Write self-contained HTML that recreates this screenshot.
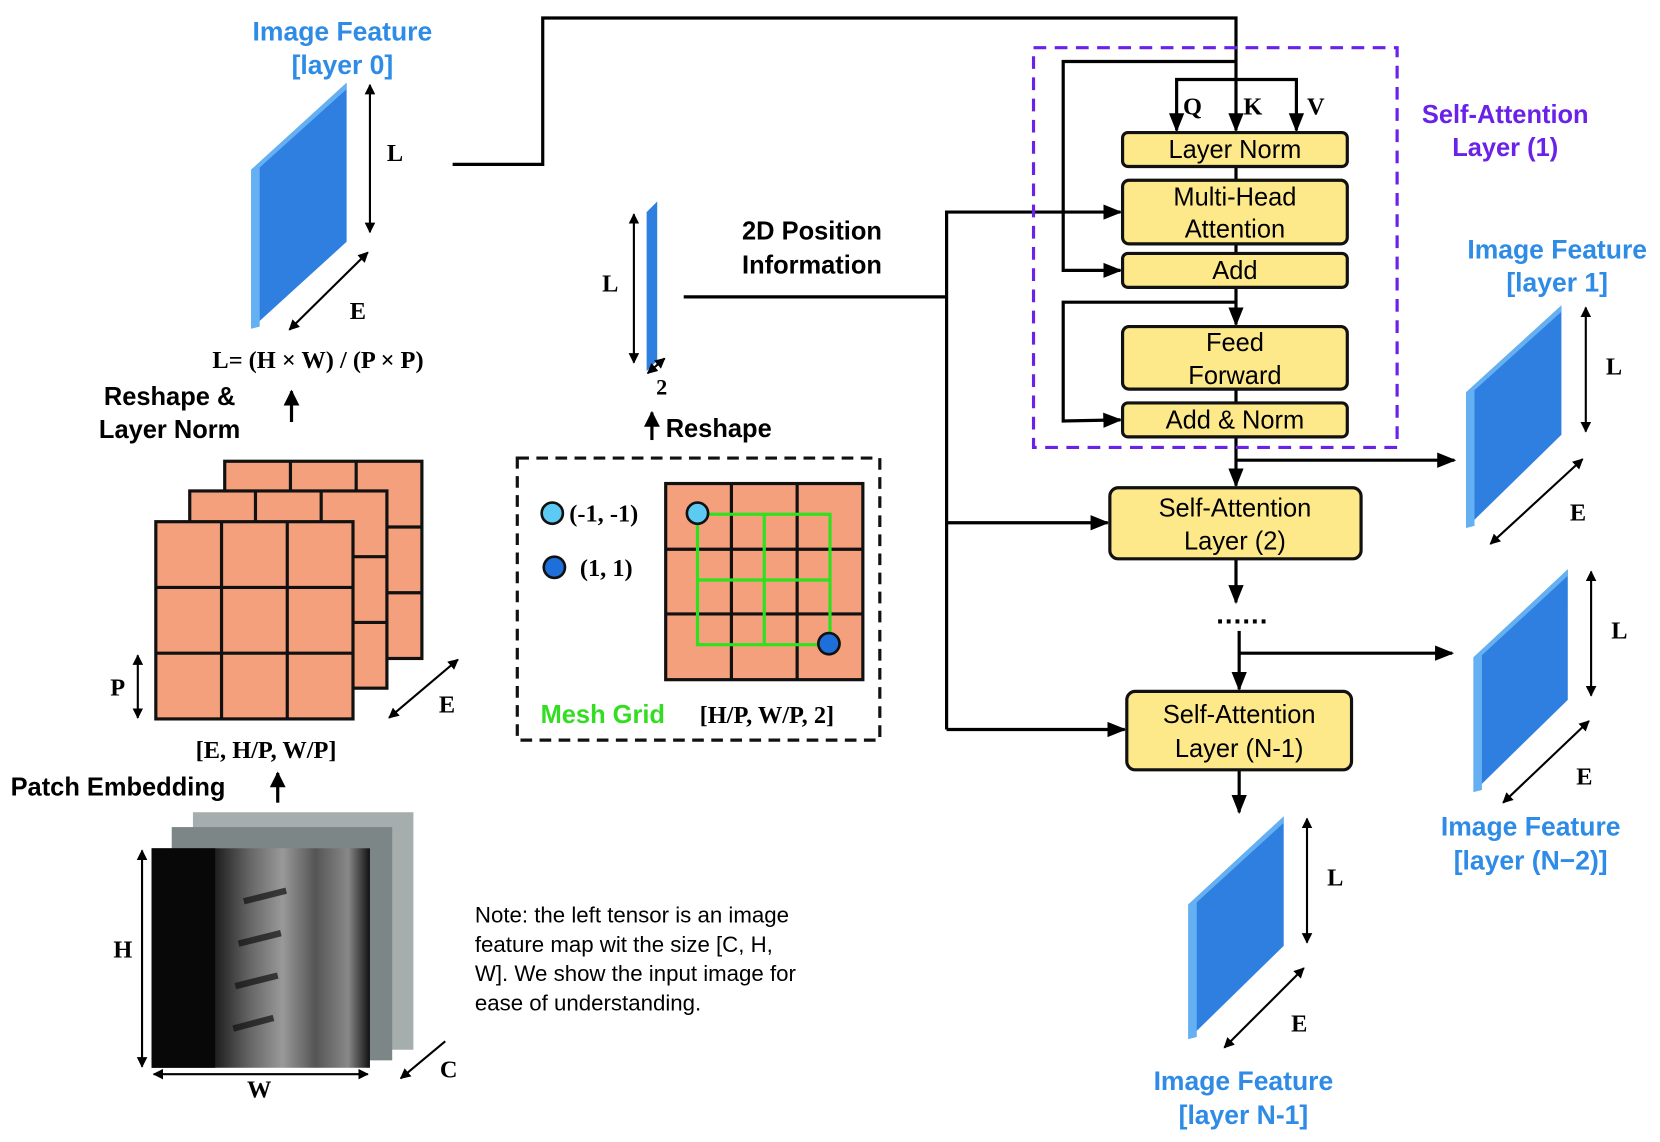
<!DOCTYPE html>
<html><head><meta charset="utf-8"><style>
html,body{margin:0;padding:0;background:#fff;}
svg{display:block;}
.sb{font-family:"Liberation Sans",sans-serif;font-weight:bold;}
.sn{font-family:"Liberation Sans",sans-serif;}
.se{font-family:"Liberation Serif",serif;font-weight:bold;}
.blue{fill:#2e8be6;}
</style></head><body>
<svg width="1660" height="1142" viewBox="0 0 1566 1077" preserveAspectRatio="none" xmlns="http://www.w3.org/2000/svg">
<defs>
<marker id="a" viewBox="0 0 10 10" refX="9" refY="5" markerWidth="5" markerHeight="5" orient="auto-start-reverse"><path d="M0,0 L10,5 L0,10 z" fill="#000"/></marker>
<marker id="s" viewBox="0 0 10 10" refX="9" refY="5" markerWidth="6" markerHeight="6" orient="auto-start-reverse"><path d="M0,1 L10,5 L0,9 z" fill="#000"/></marker>
<linearGradient id="mri" x1="0" x2="1" y1="0" y2="0">
<stop offset="0" stop-color="#050505"/><stop offset="0.3" stop-color="#222"/><stop offset="0.45" stop-color="#666"/><stop offset="0.6" stop-color="#999"/><stop offset="0.75" stop-color="#555"/><stop offset="0.9" stop-color="#888"/><stop offset="1" stop-color="#111"/></linearGradient>
</defs>

<text class="sb blue" x="323" y="38" font-size="25" text-anchor="middle">Image Feature</text>
<text class="sb blue" x="323" y="70" font-size="25" text-anchor="middle">[layer 0]</text>
<polygon points="237,160 327,78 327,228 237,310" fill="#2f7fe0"/>
<polygon points="237,160 327,78 327,84 245,158 245,308 237,310" fill="#64b0f2"/>
<line x1="349" y1="80" x2="349" y2="219" stroke="#000" stroke-width="2" marker-start="url(#a)" marker-end="url(#a)"/>
<text class="se" x="365" y="152" font-size="23">L</text>
<line x1="273" y1="311" x2="347" y2="238" stroke="#000" stroke-width="2" marker-start="url(#a)" marker-end="url(#a)"/>
<text class="se" x="330" y="301" font-size="23">E</text>
<text class="se" x="300" y="347" font-size="23" text-anchor="middle">L= (H × W) / (P × P)</text>
<text class="sb" x="160" y="382" font-size="24" text-anchor="middle">Reshape &amp;</text>
<text class="sb" x="160" y="413" font-size="24" text-anchor="middle">Layer Norm</text>
<line x1="275" y1="398" x2="275" y2="369" stroke="#000" stroke-width="3" marker-end="url(#a)"/>

<g stroke="#111" stroke-width="3" fill="#f4a07c">
<rect x="212" y="435" width="186" height="186"/>
<line x1="274" y1="435" x2="274" y2="621"/><line x1="336" y1="435" x2="336" y2="621"/>
<line x1="212" y1="497" x2="398" y2="497"/><line x1="212" y1="559" x2="398" y2="559"/>
<rect x="179" y="463" width="186" height="186"/>
<line x1="241" y1="463" x2="241" y2="649"/><line x1="303" y1="463" x2="303" y2="649"/>
<line x1="179" y1="525" x2="365" y2="525"/><line x1="179" y1="587" x2="365" y2="587"/>
<rect x="147" y="492" width="186" height="186"/>
<line x1="209" y1="492" x2="209" y2="678"/><line x1="271" y1="492" x2="271" y2="678"/>
<line x1="147" y1="554" x2="333" y2="554"/><line x1="147" y1="616" x2="333" y2="616"/>
</g>
<line x1="130" y1="618" x2="130" y2="677" stroke="#000" stroke-width="2" marker-start="url(#a)" marker-end="url(#a)"/>
<text class="se" x="104" y="656" font-size="23">P</text>
<line x1="367" y1="677" x2="432" y2="622" stroke="#000" stroke-width="2" marker-start="url(#a)" marker-end="url(#a)"/>
<text class="se" x="414" y="672" font-size="23">E</text>
<text class="se" x="251" y="715" font-size="23" text-anchor="middle">[E, H/P, W/P]</text>
<text class="sb" x="10" y="750" font-size="24">Patch Embedding</text>
<line x1="262" y1="757" x2="262" y2="729" stroke="#000" stroke-width="3" marker-end="url(#a)"/>

<rect x="182" y="766" width="208" height="224" fill="#a5adad"/>
<rect x="162" y="780" width="208" height="220" fill="#7c8686"/>
<rect x="143" y="800" width="206" height="207" fill="url(#mri)"/>
<rect x="143" y="800" width="60" height="207" fill="#080808"/>
<g stroke="#111" stroke-width="6" opacity="0.7">
<line x1="230" y1="850" x2="270" y2="840"/><line x1="225" y1="890" x2="265" y2="880"/><line x1="222" y1="930" x2="262" y2="920"/><line x1="220" y1="970" x2="258" y2="960"/>
</g>
<line x1="134" y1="802" x2="134" y2="1006" stroke="#000" stroke-width="2" marker-start="url(#a)" marker-end="url(#a)"/>
<text class="se" x="107" y="903" font-size="23">H</text>
<line x1="145" y1="1013" x2="347" y2="1013" stroke="#000" stroke-width="2" marker-start="url(#a)" marker-end="url(#a)"/>
<text class="se" x="233" y="1035" font-size="23">W</text>
<line x1="378" y1="1017" x2="420" y2="982" stroke="#000" stroke-width="2" marker-start="url(#a)"/>
<text class="se" x="415" y="1016" font-size="23">C</text>

<text class="sn" font-size="21"><tspan x="448" y="870">Note: the left tensor is an image</tspan><tspan x="448" y="898">feature map wit the size [C, H,</tspan><tspan x="448" y="925">W]. We show the input image for</tspan><tspan x="448" y="953">ease of understanding.</tspan></text>

<polygon points="610,200 620,190 620,340 610,350" fill="#2f7fe0"/>
<line x1="598" y1="202" x2="598" y2="342" stroke="#000" stroke-width="2" marker-start="url(#a)" marker-end="url(#a)"/>
<text class="se" x="568" y="275" font-size="23">L</text>
<line x1="611" y1="352" x2="627" y2="338" stroke="#000" stroke-width="2" marker-start="url(#a)" marker-end="url(#a)"/>
<text class="se" x="619" y="372" font-size="21">2</text>
<text class="sb" x="766" y="226" font-size="24" text-anchor="middle">2D Position</text>
<text class="sb" x="766" y="258" font-size="24" text-anchor="middle">Information</text>
<line x1="615" y1="415" x2="615" y2="389" stroke="#000" stroke-width="3" marker-end="url(#a)"/>
<text class="sb" x="628" y="412" font-size="24">Reshape</text>

<rect x="488" y="432" width="342" height="266" fill="none" stroke="#111" stroke-width="3" stroke-dasharray="11,7"/>
<g stroke="#111" stroke-width="3" fill="#f4a07c">
<rect x="628" y="456" width="186" height="185"/>
<line x1="690" y1="456" x2="690" y2="641"/><line x1="752" y1="456" x2="752" y2="641"/>
<line x1="628" y1="518" x2="814" y2="518"/><line x1="628" y1="579" x2="814" y2="579"/>
</g>
<g stroke="#2ee01e" stroke-width="3" fill="none">
<rect x="658" y="485" width="125" height="123"/>
<line x1="721" y1="485" x2="721" y2="608"/><line x1="658" y1="547" x2="783" y2="547"/>
</g>
<circle cx="658" cy="484" r="10" fill="#5ccaf2" stroke="#111" stroke-width="2.5"/>
<circle cx="782" cy="607" r="10" fill="#1e6fd9" stroke="#111" stroke-width="2.5"/>
<circle cx="521" cy="484" r="10" fill="#5ccaf2" stroke="#111" stroke-width="2.5"/>
<circle cx="523" cy="535" r="10" fill="#1e6fd9" stroke="#111" stroke-width="2.5"/>
<text class="se" x="537" y="492" font-size="23">(-1, -1)</text>
<text class="se" x="547" y="543" font-size="23">(1, 1)</text>
<text class="sb" x="510" y="682" font-size="24" fill="#33dd22">Mesh Grid</text>
<text class="se" x="660" y="682" font-size="23">[H/P, W/P, 2]</text>

<g stroke="#000" stroke-width="3" fill="none">
<polyline points="427,155 512,155 512,17 1166,17 1166,123" marker-end="url(#s)"/>
<polyline points="1110,123 1110,75 1223,75 1223,123" marker-start="url(#s)" marker-end="url(#s)"/>
<polyline points="1166,58 1003,58 1003,255 1057,255" marker-end="url(#s)"/>
<polyline points="1166,285 1003,285 1003,397 1057,396" marker-end="url(#s)"/>
<line x1="1166" y1="157" x2="1166" y2="170"/>
<line x1="1166" y1="230" x2="1166" y2="239"/>
<line x1="1166" y1="271" x2="1166" y2="306" marker-end="url(#s)"/>
<line x1="1166" y1="367" x2="1166" y2="380"/>
<line x1="1166" y1="412" x2="1166" y2="458" marker-end="url(#s)"/>
<polyline points="1166,434 1372,434" marker-end="url(#s)"/>
<line x1="1166" y1="527" x2="1166" y2="568" marker-end="url(#s)"/>
<line x1="1169" y1="595" x2="1169" y2="650" marker-end="url(#s)"/>
<polyline points="1169,616 1370,616" marker-end="url(#s)"/>
<line x1="1169" y1="726" x2="1169" y2="766" marker-end="url(#s)"/>
<polyline points="645,280 893,280"/>
<polyline points="893,688 893,200 1057,200" marker-end="url(#s)"/>
<line x1="893" y1="493" x2="1045" y2="493" marker-end="url(#s)"/>
<line x1="893" y1="688" x2="1061" y2="688" marker-end="url(#s)"/>
</g>
<text class="se" x="1116" y="108" font-size="23">Q</text>
<text class="se" x="1173" y="108" font-size="23">K</text>
<text class="se" x="1233" y="108" font-size="23">V</text>

<rect x="975" y="45" width="343" height="377" fill="none" stroke="#6a22e8" stroke-width="3" stroke-dasharray="12,8"/>
<text class="sb" x="1420" y="116" font-size="24" text-anchor="middle" fill="#6a22e8">Self-Attention</text>
<text class="sb" x="1420" y="147" font-size="24" text-anchor="middle" fill="#6a22e8">Layer (1)</text>

<g fill="#fde98a" stroke="#111" stroke-width="3">
<rect x="1059" y="125" width="212" height="32" rx="5"/>
<rect x="1059" y="170" width="212" height="60" rx="6"/>
<rect x="1059" y="239" width="212" height="32" rx="5"/>
<rect x="1059" y="308" width="212" height="59" rx="6"/>
<rect x="1059" y="380" width="212" height="32" rx="5"/>
<rect x="1047" y="460" width="237" height="67" rx="8"/>
<rect x="1063" y="652" width="212" height="74" rx="8"/>
</g>
<g class="sn" font-size="24" text-anchor="middle">
<text x="1165" y="149">Layer Norm</text>
<text x="1165" y="194">Multi-Head</text>
<text x="1165" y="224">Attention</text>
<text x="1165" y="263">Add</text>
<text x="1165" y="331">Feed</text>
<text x="1165" y="362">Forward</text>
<text x="1165" y="404">Add &amp; Norm</text>
<text x="1165" y="487">Self-Attention</text>
<text x="1165" y="518">Layer (2)</text>
<text x="1169" y="682">Self-Attention</text>
<text x="1169" y="714">Layer (N-1)</text>
</g>
<text class="sb" x="1172" y="588" font-size="26" text-anchor="middle" letter-spacing="1">......</text>

<text class="sb blue" x="1469" y="244" font-size="25" text-anchor="middle">Image Feature</text>
<text class="sb blue" x="1469" y="275" font-size="25" text-anchor="middle">[layer 1]</text>
<polygon points="1383,370 1473,288 1473,410 1383,498" fill="#2f7fe0"/>
<polygon points="1383,370 1473,288 1473,294 1391,368 1391,496 1383,498" fill="#64b0f2"/>
<line x1="1496" y1="290" x2="1496" y2="407" stroke="#000" stroke-width="2" marker-start="url(#a)" marker-end="url(#a)"/>
<text class="se" x="1515" y="353" font-size="23">L</text>
<line x1="1406" y1="513" x2="1493" y2="433" stroke="#000" stroke-width="2" marker-start="url(#a)" marker-end="url(#a)"/>
<text class="se" x="1481" y="491" font-size="23">E</text>

<polygon points="1390,620 1479,537 1479,660 1390,747" fill="#2f7fe0"/>
<polygon points="1390,620 1479,537 1479,543 1398,618 1398,745 1390,747" fill="#64b0f2"/>
<line x1="1501" y1="539" x2="1501" y2="656" stroke="#000" stroke-width="2" marker-start="url(#a)" marker-end="url(#a)"/>
<text class="se" x="1520" y="602" font-size="23">L</text>
<line x1="1418" y1="757" x2="1499" y2="680" stroke="#000" stroke-width="2" marker-start="url(#a)" marker-end="url(#a)"/>
<text class="se" x="1487" y="740" font-size="23">E</text>
<text class="sb blue" x="1444" y="788" font-size="25" text-anchor="middle">Image Feature</text>
<text class="sb blue" x="1444" y="820" font-size="25" text-anchor="middle">[layer (N−2)]</text>

<polygon points="1121,853 1211,770 1211,892 1121,980" fill="#2f7fe0"/>
<polygon points="1121,853 1211,770 1211,776 1129,851 1129,978 1121,980" fill="#64b0f2"/>
<line x1="1233" y1="772" x2="1233" y2="889" stroke="#000" stroke-width="2" marker-start="url(#a)" marker-end="url(#a)"/>
<text class="se" x="1252" y="835" font-size="23">L</text>
<line x1="1155" y1="988" x2="1230" y2="913" stroke="#000" stroke-width="2" marker-start="url(#a)" marker-end="url(#a)"/>
<text class="se" x="1218" y="973" font-size="23">E</text>
<text class="sb blue" x="1173" y="1028" font-size="25" text-anchor="middle">Image Feature</text>
<text class="sb blue" x="1173" y="1060" font-size="25" text-anchor="middle">[layer N-1]</text>
</svg>
</body></html>
